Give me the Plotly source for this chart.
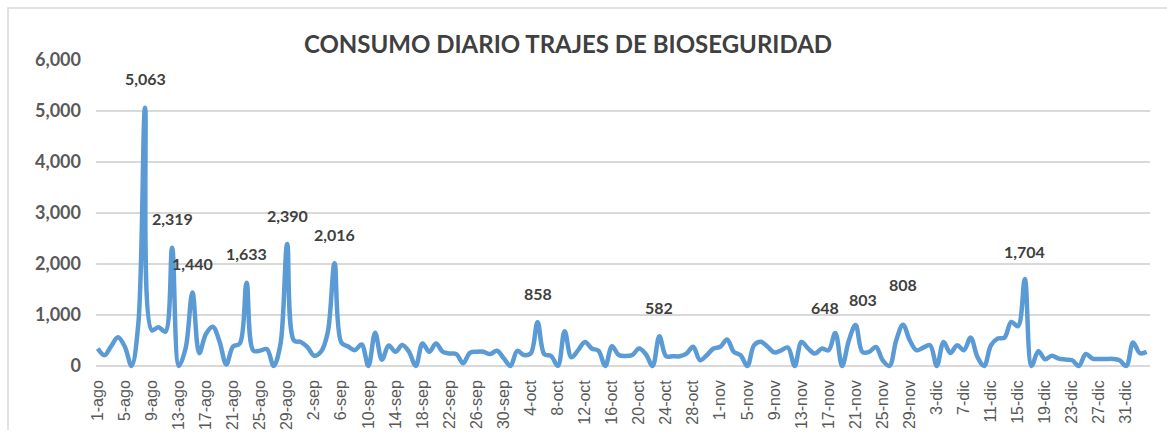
import pandas as pd
import plotly.graph_objects as go

# daily categories, 1-ago .. 3-ene
MESES = {8: "ago", 9: "sep", 10: "oct", 11: "nov", 12: "dic", 1: "ene"}
fechas = pd.date_range("2020-08-01", periods=156, freq="D")
dias = [f"{d.day}-{MESES[d.month]}" for d in fechas]

consumo = [
    340, 210, 390, 560, 380, 0, 820, 5063, 700, 760,
    670, 2319, 0, 350, 1440, 250, 630, 770, 480, 30,
    380, 440, 1633, 300, 300, 330, 0, 420, 2390, 500,
    470, 370, 200, 280, 660, 2016, 460, 380, 310, 420,
    0, 650, 120, 400, 277, 410, 277, 0, 440, 277,
    440, 277, 245, 232, 52, 258, 277, 277, 232, 297,
    150, 0, 297, 213, 245, 858, 230, 194, 0, 680,
    168, 310, 470, 342, 297, 0, 387, 213, 194, 213,
    342, 230, 0, 582, 190, 190, 190, 243, 375, 112,
    210, 342, 375, 520, 276, 210, 0, 408, 474, 375,
    265, 307, 360, 0, 470, 340, 242, 340, 307, 648,
    0, 500, 803, 275, 275, 372, 111, 0, 503, 808,
    503, 307, 360, 405, 0, 470, 255, 405, 307, 555,
    176, 0, 405, 536, 555, 863, 778, 1704, 0, 290,
    130, 200, 144, 125, 111, 0, 235, 144, 137, 137,
    137, 111, 0, 460, 250, 275,
]

# labelled peaks: (index, xshift, yshift)
etiquetas = [(7, 0, 29), (11, 0, 29), (14, 0, 29), (22, 0, 29), (28, 0, 29),
             (35, 0, 29), (65, 0, 29), (83, 0, 29), (109, -10, 25),
             (112, 7, 25), (119, 0, 40), (137, 0, 28)]

tick_labels = dias[::4]

W, H = 1167, 434
L, R, T, B = 96, 17, 60, 64

fig = go.Figure()
fig.add_trace(go.Scatter(
    x=dias, y=consumo, mode="lines",
    line=dict(color="#5B9BD5", width=4.5, shape="spline", smoothing=1),
    showlegend=False,
))

for i, dx, dy in etiquetas:
    fig.add_annotation(
        x=dias[i], y=consumo[i], text=f"{consumo[i]:,}", showarrow=False,
        xshift=dx, yshift=dy,
        font=dict(family="Lato", size=16, color="#404040", weight="bold"),
    )

# chart border (top and left edges visible in the crop)
pw, ph = W - L - R, H - T - B
fig.add_shape(
    type="path", xref="paper", yref="paper",
    path=f"M {(8 - L) / pw} {(H - T - 434) / ph} L {(8 - L) / pw} {(H - T - 12) / ph} "
         f"L {(1167 - L) / pw} {(H - T - 12) / ph}",
    line=dict(color="#d9d9d9", width=1.5),
)

fig.update_layout(
    width=W, height=H,
    margin=dict(l=L, r=R, t=T, b=B, autoexpand=False),
    paper_bgcolor="white", plot_bgcolor="white",
    title=dict(
        text="<b>CONSUMO DIARIO TRAJES DE BIOSEGURIDAD</b>",
        x=568 / W, xref="container", xanchor="center",
        y=1 - 45 / H, yref="container", yanchor="middle",
        font=dict(family="Lato", size=24, color="#404040"),
        automargin=False,
    ),
)
fig.update_xaxes(
    type="category", range=[-0.25, 155.5], automargin=False,
    tickmode="array", tickvals=tick_labels, ticktext=tick_labels,
    tickangle=-90, ticklabelstandoff=6,
    tickfont=dict(family="Liberation Sans", size=16, color="#595959"),
    showgrid=False, showline=False, zeroline=False,
)
fig.update_yaxes(
    range=[-80, 6000], automargin=False,
    tickvals=[0, 1000, 2000, 3000, 4000, 5000, 6000],
    tickformat=",d", ticklabelstandoff=14,
    tickfont=dict(family="Lato", size=18, color="#595959", weight="bold"),
    showgrid=True, gridcolor="#d9d9d9", gridwidth=1.5,
    zeroline=False, showline=False,
)

# drop the default page margin so the figure sits at the window origin
fig.write_html(
    "out.html",
    config={"displayModeBar": False},
    post_script="document.body.style.margin = '0';",
)
